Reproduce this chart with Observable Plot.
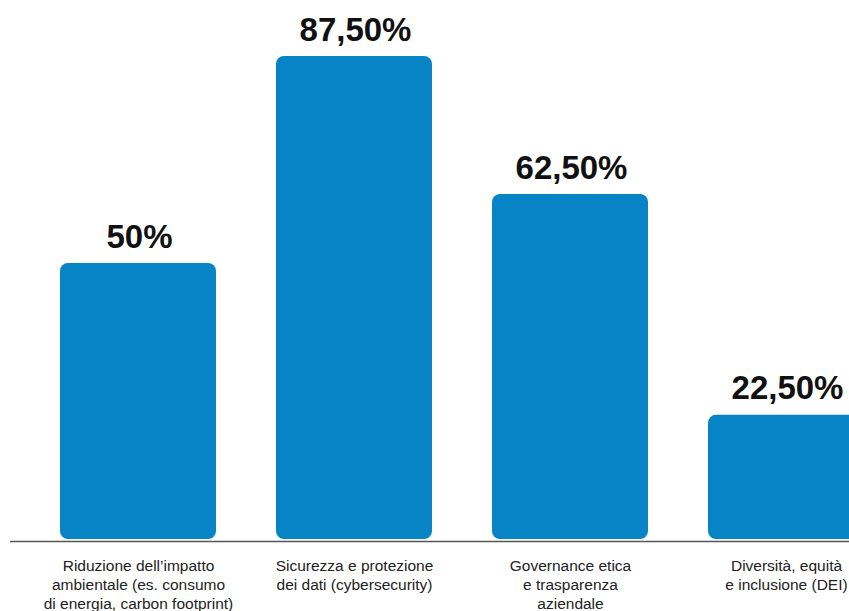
<!DOCTYPE html>
<html>
<head>
<meta charset="utf-8">
<script src="https://cdn.jsdelivr.net/npm/d3@7"></script>
<script src="https://cdn.jsdelivr.net/npm/@observablehq/plot@0.6"></script>
<style>
  html, body { margin: 0; padding: 0; background: #ffffff; overflow: hidden; }
  #chart svg { display: block; }
</style>
</head>
<body>
<div id="chart"></div>
<script>
const categories = [
  "Riduzione dell’impatto\nambientale (es. consumo\ndi energia, carbon footprint)",
  "Sicurezza e protezione\ndei dati (cybersecurity)",
  "Governance etica\ne trasparenza\naziendale",
  "Diversità, equità\ne inclusione (DEI)"
];
const values = [50, 87.5, 62.5, 22.5];
const valueLabels = ["50%", "87,50%", "62,50%", "22,50%"];

const data = categories.map((c, i) => ({cat: c, value: values[i], label: valueLabels[i]}));

const chart = Plot.plot({
  width: 849,
  height: 611,
  marginLeft: 10,
  marginRight: 0,
  marginTop: 0,
  marginBottom: 72,
  style: {fontFamily: "'Liberation Sans', Arial, sans-serif", background: "#ffffff"},
  x: {domain: categories, range: [29, 895], paddingInner: 0.28, paddingOuter: 0.14, axis: null},
  y: {domain: [0, 100], range: [539, -13], axis: null},
  marks: [
    Plot.barY(data, {x: "cat", y: "value", fill: "#0784c6", rx: 8}),
    Plot.ruleY([0], {stroke: "#555555", strokeWidth: 1.5, dy: 2}),
    Plot.text(data, {
      x: "cat", y: "value", text: "label",
      lineAnchor: "bottom", dy: -16, dx: 1,
      fontSize: 33, fontWeight: "bold", fill: "#111111",
      letterSpacing: 2.5
    }),
    Plot.text(data, {
      x: "cat", y: 0, text: "cat",
      lineAnchor: "top", dy: 18,
      fontSize: 15.5, lineHeight: 1.23, fill: "#222222"
    })
  ]
});
document.getElementById("chart").appendChild(chart);
</script>
</body>
</html>
